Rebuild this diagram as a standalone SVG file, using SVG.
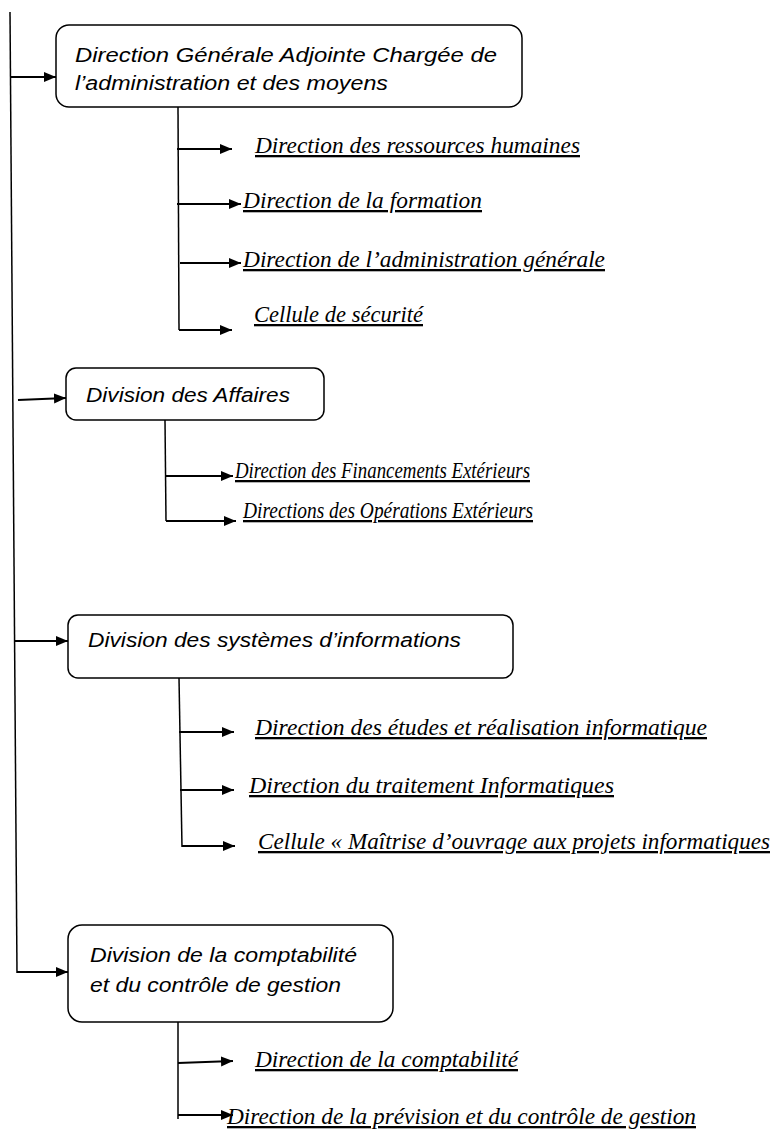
<svg xmlns="http://www.w3.org/2000/svg" width="772" height="1131" viewBox="0 0 772 1131">
<defs>
<marker id="ah" markerUnits="userSpaceOnUse" markerWidth="13" markerHeight="11" refX="12" refY="5.5" orient="auto">
<path d="M0,0.5 L12,5.5 L0,10.5 z" fill="#000"/>
</marker>
<style>
.box{fill:#fff;stroke:#000;stroke-width:1.5}
.bt{font-family:"Liberation Sans",Arial,sans-serif;font-style:italic;font-size:20px;fill:#000}
.lt{font-family:"Liberation Serif","Times New Roman",serif;font-style:italic;font-size:23px;fill:#000;text-decoration:underline}
.ln{fill:none;stroke:#000;stroke-width:1.5}
.ar{fill:none;stroke:#000;stroke-width:2;marker-end:url(#ah)}
</style>
</defs>
<rect width="772" height="1131" fill="#fff"/>
<g id="connectors">
<path class="ln" d="M10,12 L17,973"/>
<path class="ar" d="M10,77 L56,77"/>
<path class="ar" d="M18,400 L66,398"/>
<path class="ar" d="M15,641 L68,641"/>
<path class="ar" d="M17,972 L68,972"/>
<path class="ln" d="M178,107 L179,330"/>
<path class="ar" d="M177,149 L232,149"/>
<path class="ar" d="M177,204 L241,204"/>
<path class="ar" d="M180,263 L241,263"/>
<path class="ar" d="M179,330 L232,330"/>
<path class="ln" d="M165,420 L166,521"/>
<path class="ar" d="M166,476 L233,476"/>
<path class="ar" d="M166,521 L236,521"/>
<path class="ln" d="M179,678 L182,847"/>
<path class="ar" d="M179,732 L234,732"/>
<path class="ar" d="M180,790 L234,790"/>
<path class="ar" d="M182,846 L235,846"/>
<path class="ln" d="M178,1022 L178,1119"/>
<path class="ar" d="M178,1063 L233,1061"/>
<path class="ar" d="M178,1115 L233,1115"/>
</g>
<g id="dga">
<rect class="box" x="56" y="25" width="466" height="82" rx="13"/>
<text class="bt" x="75" y="62" textLength="422" lengthAdjust="spacingAndGlyphs">Direction Générale Adjointe Chargée de</text>
<text class="bt" x="75" y="90" textLength="313" lengthAdjust="spacingAndGlyphs">l’administration et des moyens</text>
</g>
<g id="drh"><text class="lt" x="255" y="153" textLength="325" lengthAdjust="spacingAndGlyphs">Direction des ressources humaines</text></g>
<g id="df"><text class="lt" x="243" y="208" textLength="239" lengthAdjust="spacingAndGlyphs">Direction de la formation</text></g>
<g id="dag"><text class="lt" x="243" y="267" textLength="362" lengthAdjust="spacingAndGlyphs">Direction de l’administration générale</text></g>
<g id="cs"><text class="lt" x="254" y="322" textLength="169" lengthAdjust="spacingAndGlyphs">Cellule de sécurité</text></g>
<g id="div-affaires">
<rect class="box" x="66" y="368" width="258" height="52" rx="10"/>
<text class="bt" x="86" y="402" textLength="204" lengthAdjust="spacingAndGlyphs">Division des Affaires</text>
</g>
<g id="dfe"><text class="lt" x="235" y="478" textLength="295" lengthAdjust="spacingAndGlyphs">Direction des Financements Extérieurs</text></g>
<g id="doe"><text class="lt" x="243" y="518" textLength="290" lengthAdjust="spacingAndGlyphs">Directions des Opérations Extérieurs</text></g>
<g id="div-si">
<rect class="box" x="68" y="615" width="445" height="63" rx="10"/>
<text class="bt" x="88" y="647" textLength="373" lengthAdjust="spacingAndGlyphs">Division des systèmes d’informations</text>
</g>
<g id="deri"><text class="lt" x="255" y="735" textLength="452" lengthAdjust="spacingAndGlyphs">Direction des études et réalisation informatique</text></g>
<g id="dti"><text class="lt" x="249" y="793" textLength="365" lengthAdjust="spacingAndGlyphs">Direction du traitement Informatiques</text></g>
<g id="cmo"><text class="lt" x="258" y="849" textLength="512" lengthAdjust="spacingAndGlyphs">Cellule « Maîtrise d’ouvrage aux projets informatiques</text></g>
<g id="div-compta">
<rect class="box" x="68" y="925" width="325" height="97" rx="14"/>
<text class="bt" x="90" y="962" textLength="267" lengthAdjust="spacingAndGlyphs">Division de la comptabilité</text>
<text class="bt" x="90" y="992" textLength="251" lengthAdjust="spacingAndGlyphs">et du contrôle de gestion</text>
</g>
<g id="dc"><text class="lt" x="255" y="1067" textLength="263" lengthAdjust="spacingAndGlyphs">Direction de la comptabilité</text></g>
<g id="dpcg"><text class="lt" x="227" y="1124" textLength="469" lengthAdjust="spacingAndGlyphs">Direction de la prévision et du contrôle de gestion</text></g>
</svg>
